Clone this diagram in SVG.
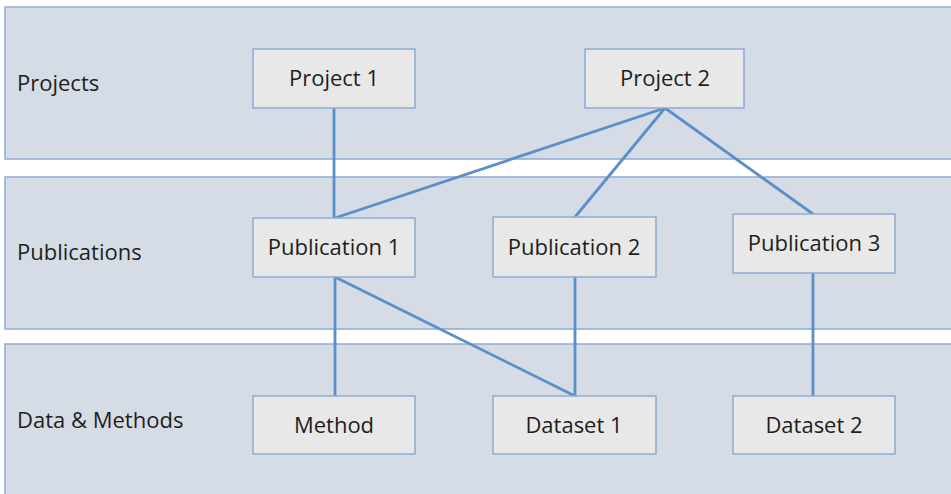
<svg xmlns="http://www.w3.org/2000/svg" width="951" height="494" viewBox="0 0 951 494">
<style>
.band{fill:#d6dce5;stroke:#8eaad3;stroke-width:1.5}
.box{fill:#e8e8e8;stroke:#8eaad3;stroke-width:1.5}
.lbl{font-family:"Open Sans","Liberation Sans",sans-serif;font-size:22px;fill:#1e1e1e}
.c{text-anchor:middle}
.con line{stroke:#5b8fc7;stroke-width:2.8;stroke-linecap:round}
</style>
<rect width="951" height="494" fill="#ffffff"/>
<g id="band-projects"><rect class="band" x="5" y="7" width="952" height="152"/><text class="lbl" x="17" y="91">Projects</text></g>
<g id="band-publications"><rect class="band" x="5" y="177" width="952" height="152"/><text class="lbl" x="17" y="260">Publications</text></g>
<g id="band-data"><rect class="band" x="5" y="344" width="952" height="160"/><text class="lbl" x="17" y="428">Data &amp; Methods</text></g>
<g id="connectors" class="con">
<line x1="334" y1="108" x2="334" y2="218"/>
<line x1="665" y1="108" x2="335" y2="218"/>
<line x1="665" y1="108" x2="575" y2="217"/>
<line x1="665" y1="108" x2="813" y2="214"/>
<line x1="335" y1="277" x2="335" y2="396"/>
<line x1="335" y1="277" x2="575" y2="396"/>
<line x1="575" y1="277" x2="575" y2="396"/>
<line x1="813" y1="273" x2="813" y2="396"/>
</g>
<g id="project1"><rect class="box" x="253" y="49" width="162" height="59"/><text class="lbl c" x="334" y="86">Project 1</text></g>
<g id="project2"><rect class="box" x="585" y="49" width="159" height="59"/><text class="lbl c" x="665" y="86">Project 2</text></g>
<g id="publication1"><rect class="box" x="253" y="218" width="162" height="59"/><text class="lbl c" x="334" y="255">Publication 1</text></g>
<g id="publication2"><rect class="box" x="493" y="217" width="163" height="60"/><text class="lbl c" x="574" y="255">Publication 2</text></g>
<g id="publication3"><rect class="box" x="733" y="214" width="162" height="59"/><text class="lbl c" x="814" y="251">Publication 3</text></g>
<g id="method"><rect class="box" x="253" y="396" width="162" height="58"/><text class="lbl c" x="334" y="433">Method</text></g>
<g id="dataset1"><rect class="box" x="493" y="396" width="163" height="58"/><text class="lbl c" x="574" y="433">Dataset 1</text></g>
<g id="dataset2"><rect class="box" x="733" y="396" width="162" height="58"/><text class="lbl c" x="814" y="433">Dataset 2</text></g>
</svg>
